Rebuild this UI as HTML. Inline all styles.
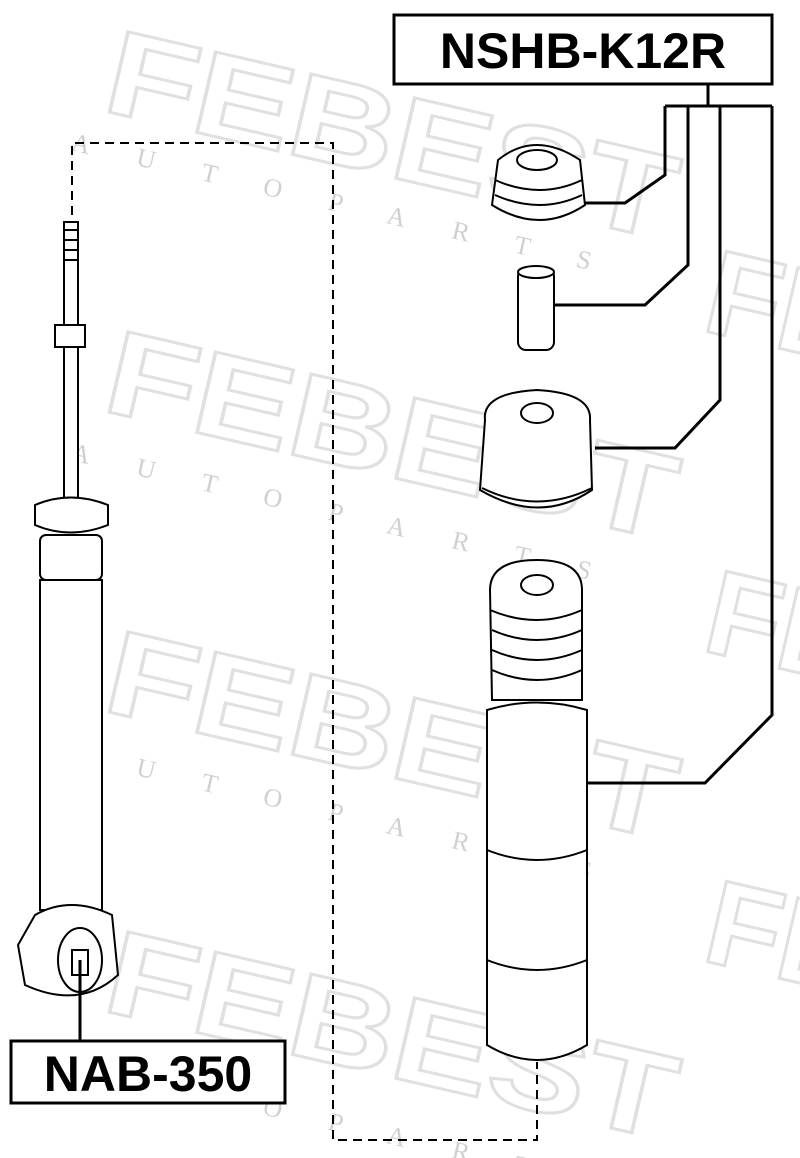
<!DOCTYPE html>
<html><head><style>html,body{margin:0;padding:0;background:#fff;width:800px;height:1158px;overflow:hidden}svg{display:block}</style></head>
<body>
<svg width="800" height="1158" viewBox="0 0 800 1158" xmlns="http://www.w3.org/2000/svg" font-family="Liberation Sans, sans-serif" overflow="hidden">
<g fill="none" stroke="#e0e0e0" stroke-width="3" font-weight="bold" font-size="120">
<text x="100" y="110" transform="rotate(13 100 110)" textLength="580" lengthAdjust="spacingAndGlyphs">FEBEST</text>
<text x="100" y="410" transform="rotate(13 100 410)" textLength="580" lengthAdjust="spacingAndGlyphs">FEBEST</text>
<text x="100" y="710" transform="rotate(13 100 710)" textLength="580" lengthAdjust="spacingAndGlyphs">FEBEST</text>
<text x="100" y="1010" transform="rotate(13 100 1010)" textLength="580" lengthAdjust="spacingAndGlyphs">FEBEST</text>
<text x="700" y="330" transform="rotate(13 700 330)">FE</text>
<text x="700" y="650" transform="rotate(13 700 650)">FE</text>
<text x="700" y="960" transform="rotate(13 700 960)">FE</text>
</g>
<g fill="#d0d0d0" font-family="Liberation Serif, serif" font-size="26" letter-spacing="48">
<text x="70" y="150" transform="rotate(13 70 150)">AUTOPARTS</text>
<text x="70" y="460" transform="rotate(13 70 460)">AUTOPARTS</text>
<text x="70" y="760" transform="rotate(13 70 760)">AUTOPARTS</text>
<text x="70" y="1070" transform="rotate(13 70 1070)">AUTOPARTS</text>
</g>
<g fill="none" stroke="#000" stroke-width="2" stroke-dasharray="9,6">
<path d="M72 215 V143 H333 V1140 H537 V1062"/>
</g>
<g fill="#fff" stroke="#000" stroke-width="2">
<rect x="64" y="222" width="14" height="300"/>
<path d="M64 230 h14 M64 240 h14 M64 250 h14 M64 260 h14"/>
<rect x="55" y="325" width="30" height="22"/>
<path d="M35 505 Q70 490 108 505 L108 525 Q70 540 35 525 Z"/>
<rect x="40" y="535" width="62" height="45" rx="6"/>
<rect x="40" y="580" width="62" height="330"/>
<path d="M35 915 Q70 895 112 915 L118 975 Q80 1010 25 985 L18 945 Z"/>
<ellipse cx="80" cy="960" rx="22" ry="32"/>
<rect x="72" y="950" width="16" height="25"/>
<path d="M498 160 Q535 130 580 160 L585 205 Q540 235 492 205 Z"/>
<path d="M495 180 Q540 200 582 180 M495 195 Q540 215 582 195"/>
<ellipse cx="537" cy="160" rx="20" ry="10"/>
<rect x="518" y="268" width="36" height="82" rx="8"/>
<ellipse cx="536" cy="272" rx="18" ry="6"/>
<path d="M485 420 Q482 393 537 390 Q592 393 590 420 L592 490 Q540 525 480 490 Z"/>
<path d="M482 488 Q537 515 592 488"/>
<ellipse cx="537" cy="413" rx="16" ry="10"/>
<path d="M490 590 Q490 560 537 560 Q582 560 582 590 L582 700 L492 700 Z"/>
<path d="M490 610 Q537 630 582 610 M492 630 Q537 650 582 630 M492 650 Q537 670 582 650 M492 670 Q537 690 582 670"/>
<ellipse cx="537" cy="585" rx="16" ry="10"/>
<path d="M487 710 Q537 695 587 710 L587 1045 Q537 1075 487 1045 Z"/>
<path d="M487 850 Q537 870 587 850 M487 960 Q537 980 587 960"/>
</g>
<g fill="none" stroke="#000" stroke-width="3">
<path d="M708 84 V106 M665 106 H772"/>
<path d="M665 106 V175 L625 203 H585"/>
<path d="M688 106 V265 L645 305 H555"/>
<path d="M720 106 V400 L675 448 H595"/>
<path d="M772 106 V715 L705 783 H587"/>
<path d="M80 960 V1040"/>
</g>
<rect x="394" y="15" width="378" height="69" fill="#fff" stroke="#000" stroke-width="3"/>
<text x="583" y="68" text-anchor="middle" font-size="50" font-weight="bold">NSHB-K12R</text>
<rect x="11" y="1041" width="274" height="62" fill="#fff" stroke="#000" stroke-width="3"/>
<text x="148" y="1091" text-anchor="middle" font-size="50" font-weight="bold">NAB-350</text>
</svg>
</body></html>
